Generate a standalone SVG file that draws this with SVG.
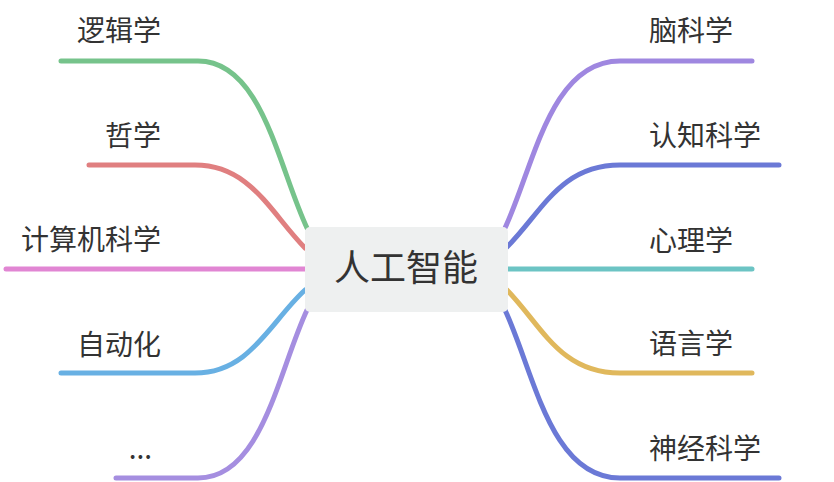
<svg xmlns="http://www.w3.org/2000/svg" width="834" height="482" viewBox="0 0 834 482">
<style>
.c{fill:none;stroke-width:5;stroke-linecap:round}
.t{font-family:"Noto Sans CJK SC","Noto Sans",sans-serif;font-size:28px;fill:#333}
.l{text-anchor:end}
</style>
<rect width="834" height="482" fill="#fff"/>
<g id="connectors">
<path class="c" stroke="#76c38b" d="M307 228 C278 166 262 61 198 61 H61"/>
<path class="c" stroke="#e07f80" d="M305 248 C270 212 250 165 195 165 H89"/>
<path class="c" stroke="#e186d3" d="M305 269 H6"/>
<path class="c" stroke="#68b0e3" d="M305 290 C270 322 250 373 195 373 H61"/>
<path class="c" stroke="#a58ee0" d="M307 310 C278 372 262 478 198 478 H116"/>
<path class="c" stroke="#9f87e0" d="M505 228 C534 166 550 61 620 61 H752"/>
<path class="c" stroke="#6b79d6" d="M507 247 C542 212 560 165 620 165 H779"/>
<path class="c" stroke="#6cc4c4" d="M508 269 H752"/>
<path class="c" stroke="#e0b85c" d="M507 290 C542 326 560 373 620 373 H752"/>
<path class="c" stroke="#6b79d6" d="M505 310 C534 372 550 478 620 478 H779"/>
</g>
<g id="center">
<rect x="305" y="227" width="203" height="85" rx="5" fill="#eef0f0"/>
<text x="406" y="281" text-anchor="middle" font-family="&quot;Noto Sans CJK SC&quot;,&quot;Noto Sans&quot;,sans-serif" font-size="36" fill="#333">人工智能</text>
</g>
<g id="n1"><text class="t l" x="161" y="41">逻辑学</text></g>
<g id="n2"><text class="t l" x="161" y="146">哲学</text></g>
<g id="n3"><text class="t l" x="161" y="250">计算机科学</text></g>
<g id="n4"><text class="t l" x="161" y="355">自动化</text></g>
<g id="n5"><text class="t l" x="152" y="459">...</text></g>
<g id="n6"><text class="t" x="649" y="41">脑科学</text></g>
<g id="n7"><text class="t" x="649" y="146">认知科学</text></g>
<g id="n8"><text class="t" x="649" y="251">心理学</text></g>
<g id="n9"><text class="t" x="649" y="354">语言学</text></g>
<g id="n10"><text class="t" x="649" y="459">神经科学</text></g>
</svg>
